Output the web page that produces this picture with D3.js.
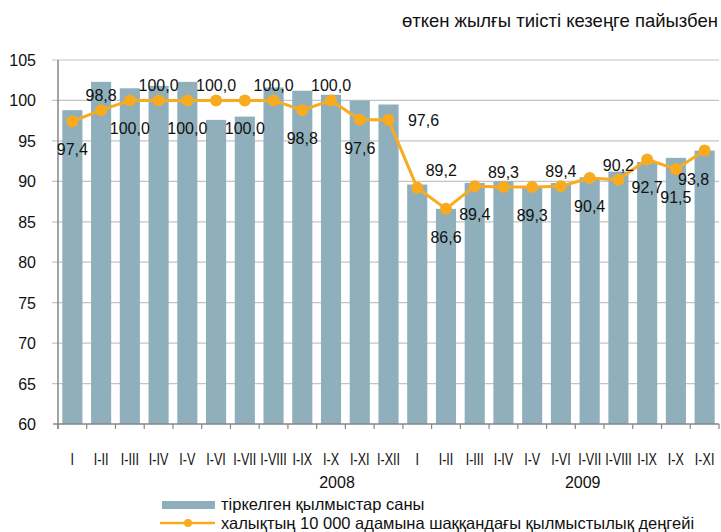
<!DOCTYPE html>
<html>
<head>
<meta charset="utf-8">
<script src="https://cdn.jsdelivr.net/npm/d3@7"></script>
<style>
  body { margin: 0; background: #fff; }
  svg { display: block; font-family: "Liberation Sans", Arial, sans-serif; }
</style>
</head>
<body>
<svg id="canvas" width="721" height="532"></svg>
<script>
// categories (months cumulated), 2008 then 2009
let months = ['I', 'I-II', 'I-III', 'I-IV', 'I-V', 'I-VI', 'I-VII', 'I-VIII', 'I-IX', 'I-X', 'I-XI', 'I-XII',
              'I', 'I-II', 'I-III', 'I-IV', 'I-V', 'I-VI', 'I-VII', 'I-VIII', 'I-IX', 'I-X', 'I-XI']
let years = ['2008', '2009']

// registered crimes, % of same period last year
let crimes = [98.8, 102.3, 101.5, 101.8, 102.3, 97.6, 98.0, 101.6, 101.2, 100.7, 100.0, 99.5,
              89.6, 86.6, 89.8, 90.0, 89.2, 89.8, 90.5, 91.2, 92.4, 92.9, 93.8]
// crime rate per 10 000 people, % of same period last year
let crimeRate = [97.4, 98.8, 100.0, 100.0, 100.0, 100.0, 100.0, 100.0, 98.8, 100.0, 97.6, 97.6,
                 89.2, 86.6, 89.4, 89.3, 89.3, 89.4, 90.4, 90.2, 92.7, 91.5, 93.8]

let yTicks = [60, 65, 70, 75, 80, 85, 90, 95, 100, 105]

// where each value label sits around its point
let labelSide = ['b', 'a', 'b', 'a', 'b', 'a', 'b', 'a', 'b', 'a', 'b', 'r',
                 'ar', 'b', 'b', 'a', 'b', 'a', 'b', 'a', 'b', 'b', 'bl']

let svg = d3.select('#canvas')

let plotLeft = 58, plotRight = 719, plotTop = 60, plotBottom = 424
let barColor = '#8FAFBC'
let lineColor = '#F8AB1E'

let x = d3.scaleBand()
    .domain(d3.range(months.length))
    .range([plotLeft, plotRight])
    .paddingInner(0.3)
    .paddingOuter(0.15)

let y = d3.scaleLinear()
    .domain([60, 105])
    .range([plotBottom, plotTop])

let step = x.step()
let cx = (i) => x(i) + x.bandwidth() / 2

// gridlines + y ticks
svg.append('g')
    .selectAll('line')
    .data(yTicks)
    .enter()
    .append('line')
    .attr('x1', plotLeft - 6)
    .attr('x2', plotRight)
    .attr('y1', (d) => y(d))
    .attr('y2', (d) => y(d))
    .style('stroke', (d) => d === 60 ? 'none' : '#C4C4C4')
    .style('stroke-width', 1.2)

svg.append('g')
    .selectAll('text')
    .data(yTicks)
    .enter()
    .append('text')
    .attr('x', 36)
    .attr('y', (d) => y(d) + 6)
    .attr('text-anchor', 'end')
    .style('font-size', '16px')
    .style('fill', '#111')
    .text((d) => d)

// bars
svg.append('g')
    .selectAll('rect')
    .data(crimes)
    .enter()
    .append('rect')
    .attr('x', (d, i) => x(i))
    .attr('y', (d) => y(d))
    .attr('width', x.bandwidth())
    .attr('height', (d) => y(60) - y(d))
    .style('fill', barColor)

// axes lines
svg.append('line')
    .attr('x1', plotLeft).attr('x2', plotLeft)
    .attr('y1', plotTop).attr('y2', plotBottom + 5)
    .style('stroke', '#868686').style('stroke-width', 1.5)

svg.append('line')
    .attr('x1', plotLeft - 5).attr('x2', plotRight)
    .attr('y1', plotBottom).attr('y2', plotBottom)
    .style('stroke', '#868686').style('stroke-width', 1.5)

svg.append('g')
    .selectAll('line')
    .data(d3.range(months.length + 1))
    .enter()
    .append('line')
    .attr('x1', (d) => plotLeft + d * step)
    .attr('x2', (d) => plotLeft + d * step)
    .attr('y1', plotBottom)
    .attr('y2', plotBottom + 5)
    .style('stroke', '#868686')
    .style('stroke-width', 1.2)

// category labels (condensed like the original)
svg.append('g')
    .selectAll('text')
    .data(months)
    .enter()
    .append('text')
    .attr('transform', (d, i) => 'translate(' + cx(i) + ',465) scale(0.74,1)')
    .attr('text-anchor', 'middle')
    .style('font-size', '17px')
    .style('fill', '#111')
    .text((d) => d)

// year labels
let yearX = [cx(9) + 6, cx(18) - 7]
svg.append('g')
    .selectAll('text')
    .data(years)
    .enter()
    .append('text')
    .attr('x', (d, i) => yearX[i])
    .attr('y', 488)
    .attr('text-anchor', 'middle')
    .style('font-size', '16px')
    .style('fill', '#111')
    .text((d) => d)

// line series
let line = d3.line()
    .x((d, i) => cx(i))
    .y((d) => y(d))

svg.append('path')
    .datum(crimeRate)
    .attr('d', line)
    .style('fill', 'none')
    .style('stroke', lineColor)
    .style('stroke-width', 3)

svg.append('g')
    .selectAll('circle')
    .data(crimeRate)
    .enter()
    .append('circle')
    .attr('cx', (d, i) => cx(i))
    .attr('cy', (d) => y(d))
    .attr('r', 6)
    .style('fill', lineColor)

// value labels
let offset = {
    a: [0, -15],
    b: [0, 28],
    r: [35, 0],
    ar: [24, -18],
    bl: [-11, 28]
}
svg.append('g')
    .selectAll('text')
    .data(crimeRate)
    .enter()
    .append('text')
    .attr('x', (d, i) => cx(i) + offset[labelSide[i]][0])
    .attr('y', (d, i) => y(d) + offset[labelSide[i]][1] + 6)
    .attr('text-anchor', 'middle')
    .style('font-size', '16px')
    .style('fill', '#111')
    .text((d) => d.toFixed(1).replace('.', ','))

// title
svg.append('text')
    .attr('x', 718)
    .attr('y', 27)
    .attr('text-anchor', 'end')
    .style('font-size', '18.5px')
    .style('fill', '#111')
    .text('өткен жылғы тиісті кезеңге пайызбен')

// legend
svg.append('rect')
    .attr('x', 162).attr('y', 501)
    .attr('width', 53).attr('height', 8)
    .style('fill', barColor)

svg.append('text')
    .attr('x', 221).attr('y', 510)
    .style('font-size', '16.5px')
    .style('fill', '#111')
    .text('тіркелген қылмыстар саны')

svg.append('line')
    .attr('x1', 160).attr('x2', 215)
    .attr('y1', 523).attr('y2', 523)
    .style('stroke', lineColor)
    .style('stroke-width', 2.5)

svg.append('circle')
    .attr('cx', 188).attr('cy', 523).attr('r', 4)
    .style('fill', lineColor)

svg.append('text')
    .attr('x', 221).attr('y', 529)
    .style('font-size', '16.5px')
    .style('fill', '#111')
    .text('халықтың 10 000 адамына шаққандағы қылмыстылық деңгейі')
</script>
</body>
</html>
